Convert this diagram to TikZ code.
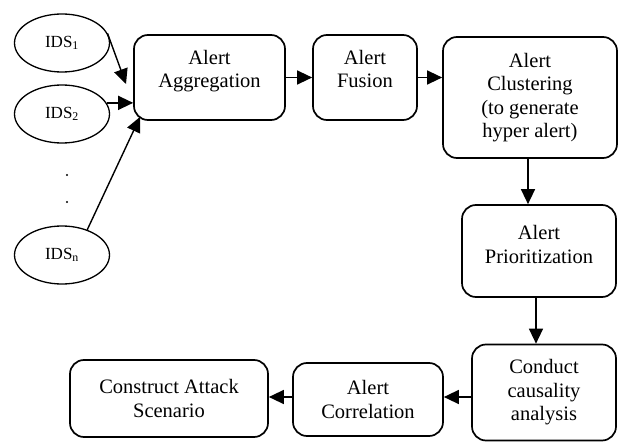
\documentclass[tikz,border=0pt]{standalone}
\usepackage{fontspec}
\setmainfont{Liberation Serif}
\usetikzlibrary{shapes.geometric,arrows.meta}
\tikzset{
  box/.style={draw, line width=1.7pt, rounded corners=14pt, align=center, inner sep=0pt,
    font=\fontsize{20.5}{23.5}\selectfont},
  src/.style={draw, ellipse, line width=1.3pt, minimum width=95pt, minimum height=58pt, inner sep=0pt,
    font=\fontsize{17}{20}\selectfont},
  arr/.style={line width=1.4pt, -{Triangle[length=15pt,width=14pt]}},
  dotmark/.style={circle, fill, inner sep=0pt, minimum size=2.2pt}
}
\begin{document}
\begin{tikzpicture}[x=1pt,y=-1pt]
\useasboundingbox (0,0) rectangle (619,444);
% sources
\node[src] (ids1) at (62,43) {IDS\textsubscript{1}};
\node[src] (ids2) at (62,114) {IDS\textsubscript{2}};
\node[src] (idsn) at (62,255) {IDS\textsubscript{n}};
\node[dotmark] (d1) at (67,175) {};
\node[dotmark] (d2) at (67,202) {};
% boxes
\node[box, minimum width=151pt, minimum height=85pt] (agg) at (209.5,77.5) {Alert\\Aggregation\\[-6pt]};
\node[box, minimum width=104pt, minimum height=85pt] (fus) at (365,77.5) {Alert\\Fusion\\[-6pt]};
\node[box, minimum width=174pt, minimum height=121pt] (clu) at (530,97.5) {Alert\\Clustering\\(to generate\\hyper alert)};
\node[box, minimum width=154pt, minimum height=92pt] (pri) at (539,251) {Alert\\Prioritization\\[-10pt]};
\node[box, minimum width=144pt, minimum height=96pt] (con) at (544,392.5) {Conduct\\causality\\analysis};
\node[box, minimum width=150pt, minimum height=73pt] (cor) at (368,399.5) {Alert\\Correlation};
\node[box, minimum width=198pt, minimum height=77pt] (cas) at (169,398.5) {Construct Attack\\Scenario};
% tips
\coordinate (t1) at (126,84);
\coordinate (t3) at (140,117);
% connectors
\draw[arr] (ids1.12) -- (t1);
\draw[arr] (ids2.14) -- (ids2.14 -| agg.west);
\draw[arr] (idsn.45) -- (t3);
\draw[arr] (agg.east) -- (fus.west);
\draw[arr] (fus.east) -- (fus.east -| clu.west);
\draw[arr] ([xshift=-2pt]clu.south) -- ([xshift=-2pt]clu.south |- pri.north);
\draw[arr] ([xshift=-3pt]pri.south) -- ([xshift=-3pt]pri.south |- con.north);
\draw[arr] ([yshift=2.5pt]cor.east -| con.west) -- ([yshift=2.5pt]cor.east);
\draw[arr] ([yshift=2.5pt]cor.west) -- ([yshift=2.5pt]cor.west -| cas.east);
\end{tikzpicture}
\end{document}
